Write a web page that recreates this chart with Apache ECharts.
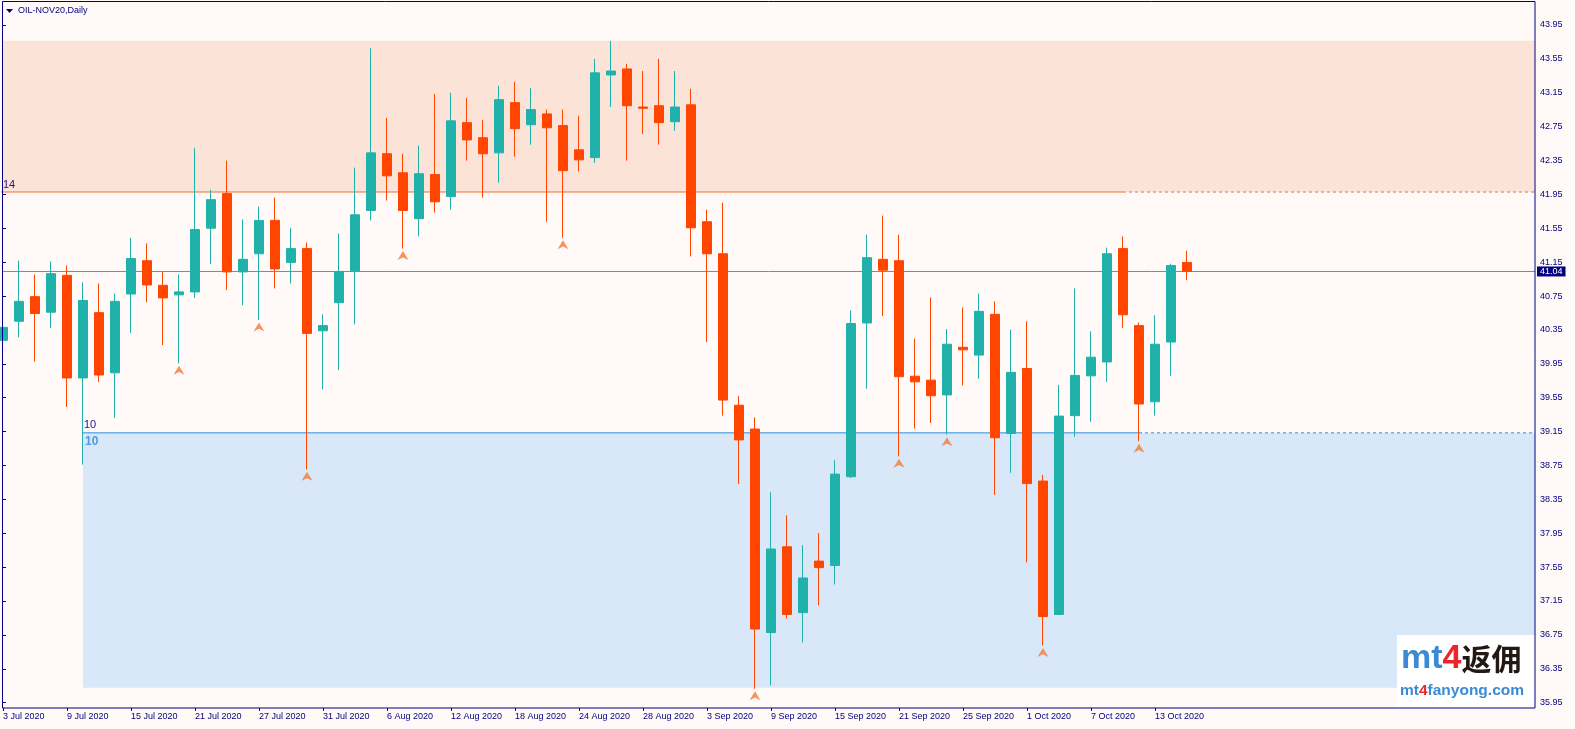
<!DOCTYPE html>
<html>
<head>
<meta charset="utf-8">
<script src="https://cdn.jsdelivr.net/npm/echarts@6/dist/echarts.min.js"></script>
<style>
html,body{margin:0;padding:0;background:#fffaf8;}
#c{width:1575px;height:729px;}
</style>
</head>
<body>
<div id="c"></div>
<script>
// ---------- data ----------
const dates = [
 '3 Jul 2020','6 Jul 2020','7 Jul 2020','8 Jul 2020','9 Jul 2020','10 Jul 2020','13 Jul 2020','14 Jul 2020','15 Jul 2020','16 Jul 2020',
 '17 Jul 2020','20 Jul 2020','21 Jul 2020','22 Jul 2020','23 Jul 2020','24 Jul 2020','27 Jul 2020','28 Jul 2020','29 Jul 2020','30 Jul 2020',
 '31 Jul 2020','3 Aug 2020','4 Aug 2020','5 Aug 2020','6 Aug 2020','7 Aug 2020','10 Aug 2020','11 Aug 2020','12 Aug 2020','13 Aug 2020',
 '14 Aug 2020','17 Aug 2020','18 Aug 2020','19 Aug 2020','20 Aug 2020','21 Aug 2020','24 Aug 2020','25 Aug 2020','26 Aug 2020','27 Aug 2020',
 '28 Aug 2020','31 Aug 2020','1 Sep 2020','2 Sep 2020','3 Sep 2020','4 Sep 2020','7 Sep 2020','8 Sep 2020','9 Sep 2020','10 Sep 2020',
 '11 Sep 2020','14 Sep 2020','15 Sep 2020','16 Sep 2020','17 Sep 2020','18 Sep 2020','21 Sep 2020','22 Sep 2020','23 Sep 2020','24 Sep 2020',
 '25 Sep 2020','28 Sep 2020','29 Sep 2020','30 Sep 2020','1 Oct 2020','2 Oct 2020','5 Oct 2020','6 Oct 2020','7 Oct 2020','8 Oct 2020',
 '9 Oct 2020','12 Oct 2020','13 Oct 2020','14 Oct 2020','15 Oct 2020'
];
const opens = [
 40.227,40.452,40.743,40.559,40.994,39.783,40.554,39.844,40.774,41.167,
 40.876,40.764,40.799,41.551,41.959,41.035,41.249,41.643,41.147,41.310,
 40.340,40.672,41.050,41.760,42.430,42.205,41.663,42.184,41.924,42.797,
 42.619,42.440,43.033,42.772,42.900,42.762,42.476,42.384,43.360,43.431,
 42.981,42.997,42.808,43.007,41.627,41.249,39.461,39.180,36.778,37.790,
 37.013,37.621,37.570,38.617,40.432,41.183,41.167,39.803,39.757,39.583,
 40.145,40.053,40.534,39.128,39.895,38.566,36.992,39.338,39.808,39.972,
 41.310,40.401,39.502,40.207,41.147
];
const closes = [
 40.380,40.687,40.544,41.014,39.783,40.697,39.818,40.687,41.193,40.881,
 40.728,40.799,41.535,41.888,41.035,41.183,41.643,41.070,41.310,40.309,
 40.401,41.040,41.709,42.440,42.169,41.760,42.194,41.862,42.818,42.593,
 42.430,43.068,42.726,42.951,42.736,42.230,42.358,43.385,43.406,42.997,
 42.966,42.797,42.981,41.556,41.249,39.522,39.052,36.819,37.764,36.992,
 37.422,37.544,38.648,40.426,41.203,41.055,39.798,39.737,39.573,40.181,
 40.115,40.569,39.077,39.849,38.536,36.967,39.333,39.813,40.028,41.249,
 40.529,39.476,40.181,41.111,41.040
];
const lows = [
 39.931,40.263,39.977,40.370,39.440,38.761,39.737,39.312,40.314,40.677,
 40.171,39.956,40.728,41.126,40.820,40.641,40.467,40.840,40.897,38.704,
 39.650,39.875,40.416,41.643,41.878,41.310,41.454,41.735,41.770,42.348,
 41.913,42.087,42.394,42.537,41.627,41.438,42.220,42.322,42.981,42.348,
 42.665,42.537,42.700,41.218,40.207,39.338,38.531,36.114,36.154,36.941,
 36.660,37.100,37.345,38.602,39.655,40.513,38.858,39.185,39.251,39.113,
 39.696,39.772,38.403,38.663,37.606,36.625,36.982,39.088,39.266,39.737,
 40.375,39.036,39.338,39.808,40.937
];
const highs = [
 40.416,41.167,41.004,41.157,41.111,40.912,40.897,40.779,41.438,41.372,
 41.035,41.004,42.496,42.005,42.348,41.653,41.806,41.913,41.556,41.382,
 40.534,41.489,42.266,43.676,42.854,42.430,42.527,43.135,43.150,43.089,
 42.828,43.232,43.278,43.206,42.951,42.951,42.879,43.549,43.761,43.492,
 43.406,43.549,43.406,43.196,41.770,41.852,39.568,39.318,38.434,38.163,
 37.810,37.953,38.812,40.580,41.474,41.699,41.474,40.248,40.733,40.360,
 40.615,40.779,40.687,40.355,40.452,38.638,39.701,40.840,40.334,41.321,
 41.454,40.437,40.524,41.132,41.285
];
const xTickLabels = ['3 Jul 2020','9 Jul 2020','15 Jul 2020','21 Jul 2020','27 Jul 2020','31 Jul 2020','6 Aug 2020',
 '12 Aug 2020','18 Aug 2020','24 Aug 2020','28 Aug 2020','3 Sep 2020','9 Sep 2020','15 Sep 2020','21 Sep 2020',
 '25 Sep 2020','1 Oct 2020','7 Oct 2020','13 Oct 2020'];
const yTicks = [35.95,36.35,36.75,37.15,37.55,37.95,38.35,38.75,39.15,39.55,39.95,
 40.35,40.75,41.15,41.55,41.95,42.35,42.75,43.15,43.55,43.95];
// fractal (down arrow) bars
const fractalIdx = [11,16,19,25,35,47,56,59,65,71];
// supply / demand zones
const zoneNames = ['14','10'];
const zoneStart = [-1, 5];
const zoneEnd = [70, 71];
const zoneLevel = [41.978, 39.135];
const zoneFar = [43.764, 36.127];
const lastPrice = closes[closes.length - 1];

// ---------- layout / style ----------
const NAVY = '#000080';
const FONT = '"Liberation Sans", Arial, sans-serif';
const X_MIN = -0.0625, X_MAX = 95.75;
const Y_MIN = 35.887, Y_MAX = 44.221;
const ZONE_FILL = ['#fce3d7', '#d8e8f8'];
const LINE_COL = ['#f26a30', '#2f8fe0'];
const tickIdx = xTickLabels.map(l => dates.indexOf(l));

const chart = echarts.init(document.getElementById('c'), null, {renderer: 'canvas'});

const series = [];
const zoneData = zoneNames.map((n, i) => [zoneStart[i], zoneLevel[i], zoneFar[i], i]);
series.push({
  type: 'custom', z: 1, clip: true, silent: true,
  data: zoneData, encode: {x: 0, y: [1, 2]},
  renderItem(params, api) {
    const i = api.value(3);
    const cs = params.coordSys;
    const a = api.coord([api.value(0), api.value(2)]);
    const b = api.coord([X_MAX, api.value(1)]);
    const x0 = Math.max(a[0], cs.x);
    const y0 = Math.min(a[1], b[1]);
    return {type: 'rect', shape: {x: x0, y: y0, width: b[0] - x0, height: Math.abs(a[1] - b[1])},
            style: {fill: ZONE_FILL[i]}};
  }
});
zoneNames.forEach((n, i) => {
  series.push({type: 'line', silent: true, z: 3, symbol: 'none',
    data: [[zoneStart[i], zoneLevel[i]], [zoneEnd[i], zoneLevel[i]]],
    lineStyle: {color: LINE_COL[i], width: 1}});
  series.push({type: 'line', silent: true, z: 3, symbol: 'none',
    data: [[zoneEnd[i], zoneLevel[i]], [X_MAX, zoneLevel[i]]],
    lineStyle: {color: LINE_COL[i], width: 1, type: [3, 3]}});
});
series.push({
  type: 'custom', z: 4, clip: false, silent: true,
  data: zoneData, encode: {x: 0, y: [1, 2]},
  renderItem(params, api) {
    const i = api.value(3);
    const cs = params.coordSys;
    const p = api.coord([api.value(0), api.value(1)]);
    const x = Math.max(p[0], cs.x) + 1;
    const children = [{type: 'text', x: x, y: p[1] - 2,
      style: {text: zoneNames[i], fill: '#24108a', font: '11px ' + FONT,
              align: 'left', verticalAlign: 'bottom', textAlign: 'left', textVerticalAlign: 'bottom'}}];
    if (i === 1) {
      children.push({type: 'text', x: x + 1, y: p[1] + 3,
        style: {text: zoneNames[i], fill: '#4a9ae6', font: 'bold 12px ' + FONT,
                align: 'left', verticalAlign: 'top', textAlign: 'left', textVerticalAlign: 'top'}});
    }
    return {type: 'group', children};
  }
});
// current price line
series.push({type: 'line', silent: true, z: 2, symbol: 'none',
  data: [[X_MIN, lastPrice], [X_MAX, lastPrice]],
  lineStyle: {color: '#7a8898', width: 1},
  endLabel: {show: true, formatter: lastPrice.toFixed(2), backgroundColor: NAVY, color: '#ffffff',
    fontSize: 9, fontFamily: FONT, padding: [1, 3, 0, 3], distance: 2}
});
// candles
series.push({
  type: 'candlestick', z: 5, clip: true,
  data: dates.map((d, i) => [i, opens[i], closes[i], lows[i], highs[i]]),
  encode: {x: 0, y: [1, 2, 3, 4]},
  barWidth: 10,
  itemStyle: {color: '#20b2aa', color0: '#ff4500', borderColor: '#20b2aa', borderColor0: '#ff4500', borderWidth: 1}
});
// fractal arrows
series.push({
  type: 'scatter', z: 6, silent: true,
  data: fractalIdx.map(i => [i, lows[i]]),
  symbol: 'path://M0,0 L6,10 L0,7 L-6,10 Z', symbolSize: [11, 9], symbolOffset: [0, 7],
  itemStyle: {color: '#f27a36'}
});

const option = {
  backgroundColor: '#fffaf8',
  animation: false,
  grid: {left: 2, right: 40, top: 2, bottom: 21},
  xAxis: {
    type: 'value', min: X_MIN, max: X_MAX,
    axisLine: {show: false}, splitLine: {show: false},
    axisTick: {show: true, customValues: tickIdx, length: 3, lineStyle: {color: NAVY}},
    axisLabel: {customValues: tickIdx, formatter: v => dates[Math.round(v)] || '',
      color: NAVY, fontSize: 9, fontFamily: FONT, align: 'left', margin: 4}
  },
  yAxis: {
    type: 'value', position: 'right', min: Y_MIN, max: Y_MAX,
    axisLine: {show: false}, splitLine: {show: false},
    axisTick: {show: true, customValues: yTicks, length: 3, lineStyle: {color: NAVY}},
    axisLabel: {customValues: yTicks, formatter: v => v.toFixed(2),
      color: NAVY, fontSize: 9, fontFamily: FONT, margin: 5}
  },
  series: series,
  graphic: [
    {type: 'rect', z: 100, silent: true, shape: {x: 2.5, y: 1.5, width: 1532.5, height: 706.5},
     style: {fill: 'none', stroke: NAVY, lineWidth: 1}},
    {type: 'polygon', z: 100, shape: {points: [[6, 9], [13, 9], [9.5, 13]]}, style: {fill: NAVY}},
    {type: 'text', z: 100, x: 18, y: 11,
     style: {text: 'OIL-NOV20,Daily', fill: NAVY, font: '9px ' + FONT, verticalAlign: 'middle'}},
    {type: 'rect', z: 90, x: 1397, y: 635, shape: {x: 0, y: 0, width: 138, height: 73}, style: {fill: '#ffffff'}},
    {type: 'text', z: 91, x: 1401, y: 659, style: {
        text: '{a|mt}{r|4}{k|返佣}', verticalAlign: 'middle',
        rich: {
          a: {fill: '#3a8bd4', fontSize: 34, fontWeight: 'bold', fontFamily: FONT},
          r: {fill: '#e8262b', fontSize: 34, fontWeight: 'bold', fontFamily: FONT},
          k: {fill: '#231815', fontSize: 30, fontWeight: 'bold', fontFamily: '"Noto Sans CJK SC", sans-serif'}
        }}},
    {type: 'text', z: 91, x: 1400, y: 691, style: {
        text: '{a|mt}{r|4}{a|fanyong.com}', verticalAlign: 'middle',
        rich: {
          a: {fill: '#3a8bd4', fontSize: 15.5, fontWeight: 'bold', fontFamily: FONT},
          r: {fill: '#e8262b', fontSize: 15.5, fontWeight: 'bold', fontFamily: FONT}
        }}}
  ]
};
chart.setOption(option);
</script>
</body>
</html>
